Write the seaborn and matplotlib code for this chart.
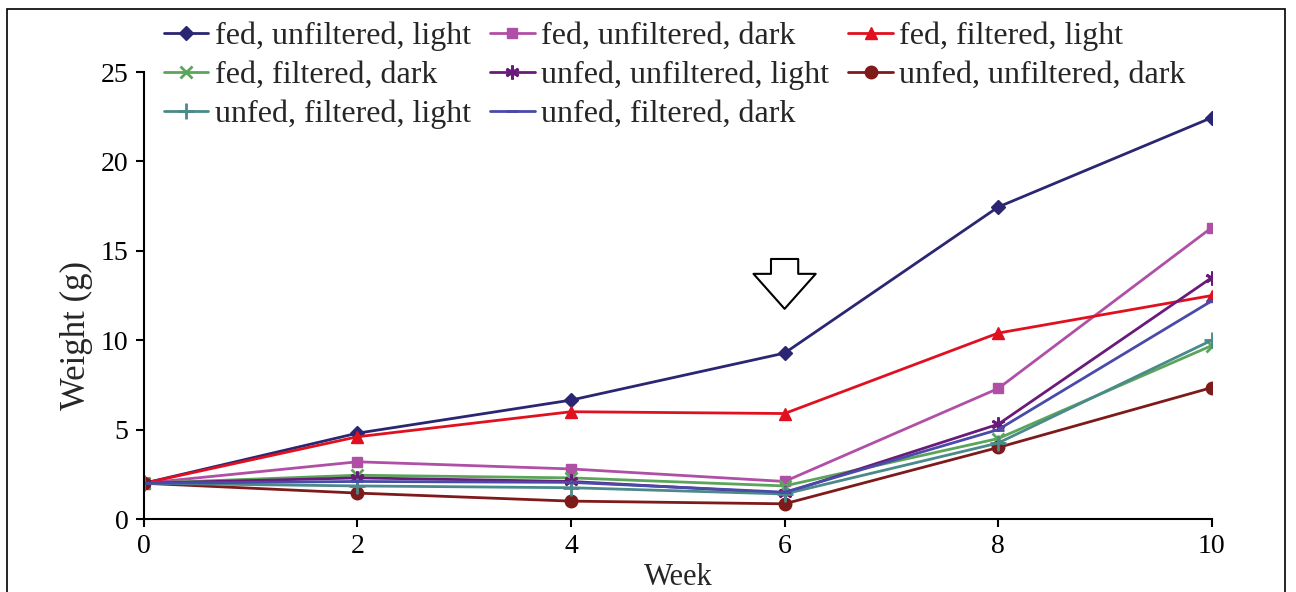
import numpy as np
import pandas as pd
import matplotlib
matplotlib.use('Agg')
import matplotlib.pyplot as plt
from matplotlib.patches import Rectangle
import seaborn as sns

weeks = [0, 2, 4, 6, 8, 10]
fed_unf_light = [2.0, 4.8, 6.65, 9.28, 17.45, 22.45]
fed_unf_dark = [2.0, 3.2, 2.8, 2.1, 7.3, 16.3]
fed_fil_light = [2.0, 4.6, 6.0, 5.9, 10.4, 12.5]
fed_fil_dark = [2.0, 2.45, 2.3, 1.85, 4.5, 9.7]
unfed_unf_light = [2.0, 2.3, 2.1, 1.45, 5.3, 13.5]
unfed_unf_dark = [2.0, 1.45, 1.0, 0.85, 4.0, 7.35]
unfed_fil_light = [2.0, 1.85, 1.75, 1.4, 4.25, 10.0]
unfed_fil_dark = [2.0, 2.1, 2.05, 1.5, 5.0, 12.2]

names = ['fed, unfiltered, light', 'fed, unfiltered, dark', 'fed, filtered, light',
         'fed, filtered, dark', 'unfed, unfiltered, light', 'unfed, unfiltered, dark',
         'unfed, filtered, light', 'unfed, filtered, dark']
series = [fed_unf_light, fed_unf_dark, fed_fil_light, fed_fil_dark,
          unfed_unf_light, unfed_unf_dark, unfed_fil_light, unfed_fil_dark]
colors = ['#2b2672', '#b04fa6', '#e0101e', '#5ba55b', '#6a1b7a', '#7f1a1a', '#4a8a8a', '#4a4aa8']
markers = ['D', 's', '^', 'x', (6, 2, 0), 'o', '+', '_']
sizes = [7, 7, 9, 9, 10, 9, 11, 9]

df = pd.DataFrame({'Week': weeks * len(names),
                   'Weight': np.concatenate(series),
                   'group': np.repeat(names, len(weeks))})

sns.set_style('ticks')
plt.rcParams['font.family'] = ['Liberation Serif', 'DejaVu Serif']

fig = plt.figure(figsize=(12.96, 5.92), dpi=100)
ax = fig.add_axes([0.111, 0.1233, 0.824, 0.755])

for name, col, mk, ms in zip(names, colors, markers, sizes):
    sns.lineplot(data=df[df['group'] == name], x='Week', y='Weight', ax=ax,
                 color=col, marker=mk, markersize=ms,
                 markeredgewidth=2 if mk in ['x', '+', '_', (6, 2, 0)] else 1,
                 markeredgecolor=col, linewidth=2, label=name, legend=False)

ax.set_xlim(0, 10)
ax.set_ylim(0, 25)
ax.set_xticks(weeks)
ax.set_yticks([0, 5, 10, 15, 20, 25])
ax.tick_params(labelsize=20, length=6, width=1.5, colors='black', pad=5)
ax.set_xlabel('Week', fontsize=22, labelpad=3)
ax.set_ylabel('Weight (g)', fontsize=25)
ax.yaxis.set_label_coords(-0.048, 0.41)
for s in ['top', 'right']:
    ax.spines[s].set_visible(False)
for s in ['left', 'bottom']:
    ax.spines[s].set_linewidth(1.5)
    ax.spines[s].set_color('black')

ax.annotate('', xy=(6, 11.6), xytext=(6, 14.7),
            arrowprops=dict(arrowstyle='simple,head_length=0.9,head_width=1.6,tail_width=0.7',
                            fc='white', ec='black', lw=1.5, mutation_scale=28))

# legend is filled row by row in the original
handles, labels = ax.get_legend_handles_labels()
order = [0, 3, 6, 1, 4, 7, 2, 5]
fig.legend([handles[i] for i in order], [labels[i] for i in order], ncol=3,
           loc='upper left', bbox_to_anchor=(0.104, 1.012),
           frameon=False, fontsize=23, handlelength=1.4, handletextpad=0.2,
           columnspacing=0.6, labelspacing=0.3)

fig.add_artist(Rectangle((0.0055, -0.02), 0.986, 1.005, transform=fig.transFigure,
                         fill=False, ec='black', lw=1.2))

fig.savefig('out.png', dpi=100)
